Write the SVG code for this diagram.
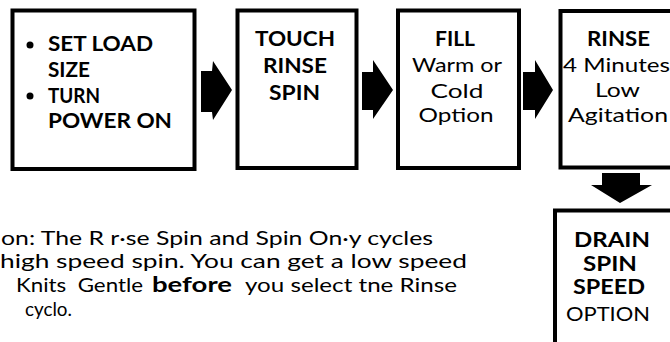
<svg xmlns="http://www.w3.org/2000/svg" width="670" height="342" viewBox="0 0 670 342">
<style>
.box{fill:#fff;stroke:#000;stroke-width:4}
.b{font-family:Lato,"Open Sans","DejaVu Sans",sans-serif;font-weight:700;font-size:20px;fill:#000}
.l{font-family:Lato,"Open Sans","DejaVu Sans",sans-serif;font-weight:400;font-size:20px;fill:#000}
.c{text-anchor:middle}
.arrow{fill:#000}
</style>
<rect width="670" height="342" fill="#fff"/>
<g id="node-load">
<rect class="box" x="12.5" y="10.5" width="182" height="158.5"/>
<circle cx="30" cy="45" r="3.5" fill="#000"/>
<circle cx="30" cy="96" r="3.5" fill="#000"/>
<text class="b" x="48" y="51" textLength="105" lengthAdjust="spacingAndGlyphs">SET LOAD</text>
<text class="b" x="48" y="77" textLength="42" lengthAdjust="spacingAndGlyphs">SIZE</text>
<text class="b" x="48" y="103" textLength="52" lengthAdjust="spacingAndGlyphs">TURN</text>
<text class="b" x="48" y="128" textLength="124" lengthAdjust="spacingAndGlyphs">POWER ON</text>
</g>
<g id="node-touch">
<rect class="box" x="237.5" y="10.5" width="119" height="157.5"/>
<text class="b c" x="295" y="46" textLength="80" lengthAdjust="spacingAndGlyphs">TOUCH</text>
<text class="b c" x="295" y="73" textLength="64" lengthAdjust="spacingAndGlyphs">RINSE</text>
<text class="b c" x="294.5" y="100" textLength="51" lengthAdjust="spacingAndGlyphs">SPIN</text>
</g>
<g id="node-fill">
<rect class="box" x="398" y="10.5" width="121" height="157.5"/>
<text class="b c" x="455" y="46" textLength="40" lengthAdjust="spacingAndGlyphs">FILL</text>
<text class="l c" x="457" y="72" textLength="90" lengthAdjust="spacingAndGlyphs">Warm or</text>
<text class="l c" x="457" y="98" textLength="53" lengthAdjust="spacingAndGlyphs">Cold</text>
<text class="l c" x="456" y="122" textLength="75" lengthAdjust="spacingAndGlyphs">Option</text>
</g>
<g id="node-rinse">
<rect class="box" x="560.5" y="11" width="118" height="156.5"/>
<text class="b c" x="618.5" y="46" textLength="63" lengthAdjust="spacingAndGlyphs">RINSE</text>
<text class="l" x="563" y="72" textLength="107" lengthAdjust="spacingAndGlyphs">4 Minutes</text>
<text class="l c" x="617.5" y="97" textLength="45" lengthAdjust="spacingAndGlyphs">Low</text>
<text class="l" x="568" y="122" textLength="100" lengthAdjust="spacingAndGlyphs">Agitation</text>
</g>
<g id="node-drain">
<rect class="box" x="555" y="210.5" width="118" height="140"/>
<text class="b c" x="612" y="247" textLength="76" lengthAdjust="spacingAndGlyphs">DRAIN</text>
<text class="b c" x="610" y="271" textLength="54" lengthAdjust="spacingAndGlyphs">SPIN</text>
<text class="b c" x="609" y="294" textLength="72" lengthAdjust="spacingAndGlyphs">SPEED</text>
<text class="l c" x="608" y="321" textLength="84" lengthAdjust="spacingAndGlyphs">OPTION</text>
</g>
<g id="connectors">
<polygon class="arrow" points="201,71 212,71 213,61 232,90 213,120 212,112 201,112"/>
<polygon class="arrow" points="362,72 373,72 373,60 393,90 373,119 373,110 362,110"/>
<polygon class="arrow" points="523,72 535,72 535,60 553,90 535,119 535,110 523,110"/>
<polygon class="arrow" points="602,173 640,173 640,185 652,185 620,203 591,185 602,185"/>
</g>
<g id="note">
<text class="l" x="1" y="245" textLength="432" lengthAdjust="spacingAndGlyphs">on: The R r·se Spin and Spin On·y cycles</text>
<text class="l" x="0" y="268" textLength="467" lengthAdjust="spacingAndGlyphs">high speed spin. You can get a low speed</text>
<text class="l" x="16" y="292" textLength="127" lengthAdjust="spacingAndGlyphs" xml:space="preserve">Knits  Gentle</text>
<text class="b" x="152" y="292" textLength="80" lengthAdjust="spacingAndGlyphs">before</text>
<text class="l" x="245" y="292" textLength="212" lengthAdjust="spacingAndGlyphs">you select tne Rinse</text>
<text class="l" x="25" y="316" textLength="47" lengthAdjust="spacingAndGlyphs">cyclo.</text>
</g>
</svg>
